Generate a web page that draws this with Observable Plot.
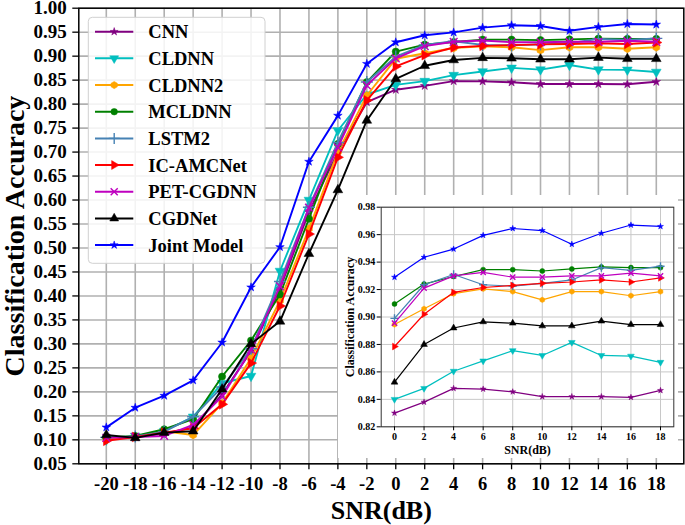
<!DOCTYPE html>
<html><head><meta charset="utf-8">
<script src="https://cdn.jsdelivr.net/npm/d3@7"></script>
<script src="https://cdn.jsdelivr.net/npm/@observablehq/plot@0.6"></script>
<style>
body{margin:0;background:#fff;}
#wrap{position:relative;width:685px;height:525px;}
#wrap svg{display:block;}
.inset{position:absolute;left:338px;top:195px;}
</style></head><body><div id="wrap"></div>
<script>
// ---- data ----
const snr = [-20,-18,-16,-14,-12,-10,-8,-6,-4,-2,0,2,4,6,8,10,12,14,16,18];
const models = ["CNN","CLDNN","CLDNN2","MCLDNN","LSTM2","IC-AMCNet","PET-CGDNN","CGDNet","Joint Model"];
const cnn      = [0.105,0.106,0.113,0.126,0.195,0.285,0.415,0.575,0.700,0.804,0.830,0.838,0.848,0.8475,0.8455,0.842,0.842,0.842,0.8415,0.8465];
const cldnn    = [0.100,0.108,0.118,0.148,0.218,0.233,0.452,0.600,0.745,0.820,0.840,0.848,0.8605,0.868,0.8755,0.872,0.8815,0.872,0.8715,0.867];
const cldnn2   = [0.100,0.107,0.118,0.110,0.176,0.270,0.390,0.540,0.700,0.818,0.8945,0.906,0.917,0.9205,0.9185,0.9125,0.9185,0.9185,0.9155,0.9185];
const mcldnn   = [0.105,0.108,0.122,0.143,0.232,0.307,0.403,0.561,0.717,0.846,0.9095,0.924,0.9295,0.9345,0.9345,0.9335,0.935,0.9365,0.936,0.936];
const lstm2    = [0.105,0.107,0.117,0.148,0.210,0.290,0.430,0.585,0.720,0.846,0.899,0.9235,0.931,0.9235,0.9225,0.9245,0.927,0.936,0.934,0.937];
const icamcnet = [0.098,0.106,0.115,0.124,0.174,0.260,0.379,0.529,0.689,0.808,0.8785,0.902,0.918,0.9215,0.923,0.9245,0.9255,0.927,0.9255,0.9285];
const petcgdnn = [0.104,0.106,0.108,0.131,0.190,0.288,0.420,0.584,0.710,0.839,0.8955,0.921,0.930,0.9325,0.929,0.929,0.930,0.930,0.932,0.930];
const cgdnet   = [0.110,0.104,0.115,0.118,0.2055,0.300,0.347,0.488,0.621,0.766,0.8525,0.880,0.892,0.8965,0.8955,0.8935,0.8935,0.897,0.8945,0.8945];
const joint    = [0.126,0.167,0.192,0.224,0.303,0.418,0.502,0.680,0.776,0.884,0.929,0.9435,0.9495,0.9595,0.9645,0.963,0.953,0.961,0.967,0.966];
const series = [cnn,cldnn,cldnn2,mcldnn,lstm2,icamcnet,petcgdnn,cgdnet,joint];
const colors = ["#800080","#00bfbf","#ffa500","#008000","#4682b4","#ff0000","#bf00bf","#000000","#0000ff"];
const yTicksMain = [0.05,0.10,0.15,0.20,0.25,0.30,0.35,0.40,0.45,0.50,0.55,0.60,0.65,0.70,0.75,0.80,0.85,0.90,0.95,1.00];
const xTicksInset = [0,2,4,6,8,10,12,14,16,18];
const yTicksInset = [0.82,0.84,0.86,0.88,0.90,0.92,0.94,0.96,0.98];

// ---- custom marker shapes ----
const s3 = Math.sqrt(3);
const triDown = {draw(c, size){ const y = -Math.sqrt(size/(s3*3)); c.moveTo(0,-2*y); c.lineTo(s3*y, y); c.lineTo(-s3*y, y); c.closePath(); }};
const triRight = {draw(c, size){ const y = -Math.sqrt(size/(s3*3)); c.moveTo(-2*y,0); c.lineTo(y, s3*y); c.lineTo(y, -s3*y); c.closePath(); }};
const hexagon = {draw(c, size){ const r = Math.sqrt(size/(1.5*s3)); for(let i=0;i<6;i++){ const a = Math.PI/2 + i*Math.PI/3; const px = r*Math.cos(a), py = r*Math.sin(a); i? c.lineTo(px,py) : c.moveTo(px,py);} c.closePath(); }};
const symbols = [d3.symbolStar, triDown, hexagon, d3.symbolCircle, d3.symbolPlus, triRight, d3.symbolTimes, d3.symbolTriangle, d3.symbolStar];
const strokeOnly = [false,false,false,false,true,false,true,false,false];
const rScale = [0.75,1,1,1,1.1,1,1.0,1,0.75];

const rows = models.map((m,k)=> snr.map((s,j)=>({model:m, snr:s, acc:series[k][j]})));
const font = "'Liberation Serif','Times New Roman',serif";

function seriesMarks(filter, lw, r) {
  const out = [];
  models.forEach((m,k)=>{
    const d = rows[k].filter(filter);
    out.push(Plot.line(d, {x:"snr", y:"acc", stroke:colors[k], strokeWidth:lw}));
    out.push(Plot.dot(d, {x:"snr", y:"acc", symbol:symbols[k], r: r*rScale[k],
      fill: strokeOnly[k] ? "none" : colors[k], stroke:colors[k], strokeWidth: strokeOnly[k] ? 1.4 : 0.5}));
  });
  return out;
}

// ---- main chart ----
const main = Plot.plot({
  width:685, height:525,
  marginLeft:78.3, marginRight:1.7, marginTop:7.7, marginBottom:61.7,
  style:{fontFamily:font, fontWeight:"bold", background:"white", overflow:"visible"},
  x:{domain:[-21.9,19.9]},
  y:{domain:[0.05,1.0]},
  marks:[
    Plot.gridX(snr, {stroke:"#b0b0b0", strokeOpacity:1, strokeWidth:1.6}),
    Plot.gridY(yTicksMain, {stroke:"#b0b0b0", strokeOpacity:1, strokeWidth:1.6}),
    ...seriesMarks(()=>true, 1.9, 3.6),
    Plot.frame({stroke:"black", strokeWidth:1.5}),
    Plot.axisX({ticks:snr, tickSize:6, tickPadding:7, fontSize:18.5, fontWeight:"bold", tickFormat:d=>String(d), label:null, strokeWidth:1.3}),
    Plot.axisY({ticks:yTicksMain, tickSize:6, tickPadding:6, fontSize:19, fontWeight:"bold", tickFormat:d3.format(".2f"), label:null, strokeWidth:1.3}),
    Plot.text(["Classification Accuracy"], {frameAnchor:"left", dx:-64, rotate:-90, textAnchor:"middle", lineAnchor:"middle", fontSize:28, fontWeight:"bold", fill:"black"}),
    Plot.text(["SNR(dB)"], {frameAnchor:"bottom", dy:47, textAnchor:"middle", lineAnchor:"middle", fontSize:26, fontWeight:"bold", fill:"black"})
  ]
});

// ---- legend ----
const lg = d3.select(main).append("g").attr("font-family", font).attr("font-weight","bold").attr("text-anchor","start");
lg.append("rect").attr("x",88.3).attr("y",17.3).attr("width",176.7).attr("height",246)
  .attr("rx",4).attr("fill","white").attr("fill-opacity",0.85).attr("stroke","#d0d0d0").attr("stroke-width",1);
models.forEach((m,k)=>{
  const y = 31.7 + k*26.67;
  lg.append("line").attr("x1",95).attr("x2",133.3).attr("y1",y).attr("y2",y).attr("stroke",colors[k]).attr("stroke-width",2);
  const r = 3.3*rScale[k];
  lg.append("path").attr("d", d3.symbol(symbols[k], Math.PI*r*r)()).attr("transform",`translate(114.2,${y})`)
    .attr("fill", strokeOnly[k] ? "none" : colors[k]).attr("stroke", colors[k]).attr("stroke-width", strokeOnly[k]?1.4:0.5);
  lg.append("text").attr("x",148.3).attr("y",y).attr("dy","0.35em").attr("font-size",18.5).attr("fill","black").text(m);
});

// ---- inset ----
const inset = Plot.plot({
  width:340, height:263,
  marginLeft:42.7, marginRight:4.7, marginTop:11.7, marginBottom:31.7,
  style:{fontFamily:font, fontWeight:"bold", background:"white", overflow:"visible"},
  x:{domain:[-0.9,18.9]},
  y:{domain:[0.82,0.98]},
  marks:[
    Plot.gridX(xTicksInset, {stroke:"#c8c8c8", strokeOpacity:1, strokeWidth:1}),
    Plot.gridY(yTicksInset, {stroke:"#c8c8c8", strokeOpacity:1, strokeWidth:1}),
    ...seriesMarks(d=>d.snr>=0, 1.2, 2.5),
    Plot.frame({stroke:"#333", strokeWidth:1}),
    Plot.axisX({ticks:xTicksInset, tickSize:4, tickPadding:2, fontSize:10, fontWeight:"bold", tickFormat:d=>String(d), label:null}),
    Plot.axisY({ticks:yTicksInset, tickSize:4, tickPadding:2, fontSize:10, fontWeight:"bold", tickFormat:d3.format(".2f"), label:null}),
    Plot.text(["Classification Accuracy"], {frameAnchor:"left", dx:-31, rotate:-90, textAnchor:"middle", lineAnchor:"middle", fontSize:12, fontWeight:"bold", fill:"black"}),
    Plot.text(["SNR(dB)"], {frameAnchor:"bottom", dy:23.5, textAnchor:"middle", lineAnchor:"middle", fontSize:12, fontWeight:"bold", fill:"black"})
  ]
});
inset.classList.add("inset");

const wrap = document.getElementById("wrap");
wrap.appendChild(main);
wrap.appendChild(inset);
</script></body></html>
